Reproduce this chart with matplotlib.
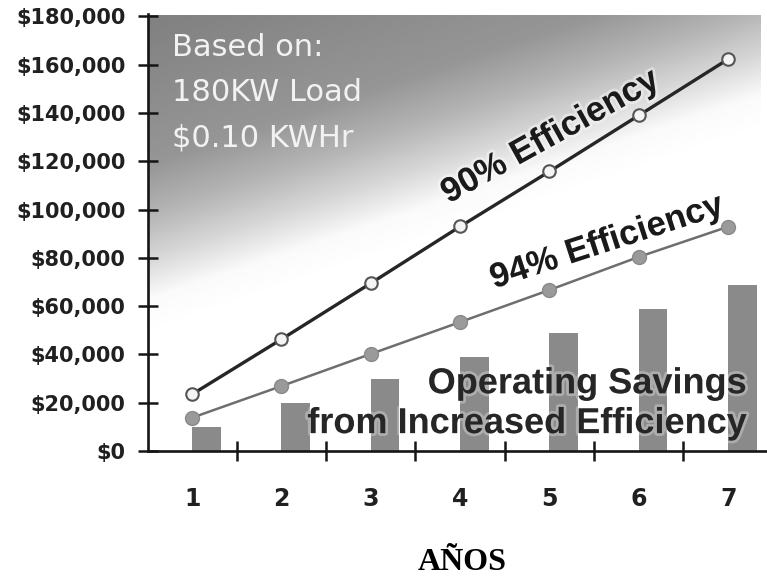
import numpy as np
import matplotlib
matplotlib.use("Agg")
import matplotlib.pyplot as plt
import matplotlib.patheffects as pe

# ---- data ----
years = [1, 2, 3, 4, 5, 6, 7]
cost_90 = [23500, 46300, 69500, 93000, 115800, 139000, 162300]
cost_94 = [13800, 26900, 40200, 53400, 66700, 80400, 92900]
savings = [10000, 20000, 29800, 39000, 48800, 58800, 68700]
y_ticks = [0, 20000, 40000, 60000, 80000, 100000, 120000, 140000, 160000, 180000]
y_tick_labels = ["$0", "$20,000", "$40,000", "$60,000", "$80,000", "$100,000",
                 "$120,000", "$140,000", "$160,000", "$180,000"]
note_lines = ["Based on:", "180KW Load", "$0.10 KWHr"]

W, H = 767, 577
fig = plt.figure(figsize=(W / 100, H / 100), dpi=100)
fig.patch.set_facecolor("white")

left_px, right_px, top_px, bottom_px = 147.5, 767, 14.5, 451
ax = fig.add_axes([left_px / W, (H - bottom_px) / H,
                   (right_px - left_px) / W, (bottom_px - top_px) / H])

x_lo, x_hi = 0.5, 7.435
y_lo, y_hi = 0, 180800

# diagonal grey-to-white backdrop
nx, ny = 320, 230
gx = np.linspace(0, right_px - left_px, nx)
gy = np.linspace(0, bottom_px - top_px, ny)
GX, GY = np.meshgrid(gx, gy)
t = GY + 0.33 * GX
levels_t = [0, 150, 200, 245, 285, 320]
levels_g = [128, 150, 180, 215, 250, 255]
grey = np.interp(t, levels_t, levels_g) / 255.0
grad_right = 7.36
ax.imshow(grey, extent=[x_lo, grad_right, y_lo, y_hi], origin="upper",
          cmap="gray", vmin=0, vmax=1, aspect="auto", interpolation="bilinear",
          zorder=0)

# savings bars
ax.bar(years, savings, width=0.32, align="edge", color="#8a8a8a", zorder=2)

# efficiency lines
ax.plot(years, cost_90, color="#262626", lw=2.4, zorder=3,
        marker="o", ms=9, mfc="#f4f4f4", mec="#555555", mew=1.5)
ax.plot(years, cost_94, color="#6e6e6e", lw=1.8, zorder=3,
        marker="o", ms=10, mfc="#9a9a9a", mec="#8a8a8a", mew=1.0)

ax.set_xlim(x_lo, x_hi)
ax.set_ylim(y_lo, y_hi)

# axes styling
for s in ["top", "right"]:
    ax.spines[s].set_visible(False)
for s in ["left", "bottom"]:
    ax.spines[s].set_linewidth(1.9)
    ax.spines[s].set_color("#151515")
    ax.spines[s].set_zorder(5)

ax.set_yticks(y_ticks)
ax.set_yticklabels(y_tick_labels, fontfamily="DejaVu Sans", fontweight="bold",
                   fontsize=15, color="#202020")
ax.tick_params(axis="y", direction="inout", length=15, width=1.8,
               color="#151515", pad=8.3)

ax.set_xticks(years)
ax.set_xticklabels([str(y) for y in years], fontfamily="DejaVu Sans",
                   fontweight="bold", fontsize=17, color="#202020")
ax.tick_params(axis="x", which="major", length=0, pad=26)
ax.set_xticks([1.5, 2.5, 3.5, 4.5, 5.5, 6.5], minor=True)
ax.tick_params(axis="x", which="minor", direction="inout", length=15,
               width=1.8, color="#151515")

# assumptions note
note_baselines = [163470, 144900, 126300]
for line, yb in zip(note_lines, note_baselines):
    ax.text(0.776, yb, line, color="#f2f2f2", fontsize=22,
            fontfamily="DejaVu Sans", ha="left", va="baseline", zorder=6)

glow = [pe.withStroke(linewidth=4, foreground="white", alpha=0.4)]

# series labels along the lines
ax.text(3.87, 102400, "90% Efficiency", rotation=29, rotation_mode="anchor",
        ha="left", va="baseline", fontsize=25, fontweight="bold",
        fontfamily="Liberation Sans", color="#1a1a1a", zorder=6,
        path_effects=glow)
ax.text(4.38, 67300, "94% Efficiency", rotation=18, rotation_mode="anchor",
        ha="left", va="baseline", fontsize=25, fontweight="bold",
        fontfamily="Liberation Sans", color="#1a1a1a", zorder=6,
        path_effects=glow)

# bar caption
glow_soft = [pe.withStroke(linewidth=4, foreground="white", alpha=0.3)]
ax.text(7.21, 23900, "Operating Savings", ha="right", va="baseline",
        fontsize=26, fontweight="bold", fontfamily="Liberation Sans",
        color="#262626", zorder=6, path_effects=glow_soft)
ax.text(7.21, 7400, "from Increased Efficiency", ha="right", va="baseline",
        fontsize=26, fontweight="bold", fontfamily="Liberation Sans",
        color="#262626", zorder=6, path_effects=glow_soft)

# x axis title
fig.text(462 / W, 7 / H, "AÑOS", ha="center", va="baseline",
         fontfamily="Liberation Serif", fontweight="bold", fontsize=23,
         color="black")

fig.savefig("out.png", dpi=100)
